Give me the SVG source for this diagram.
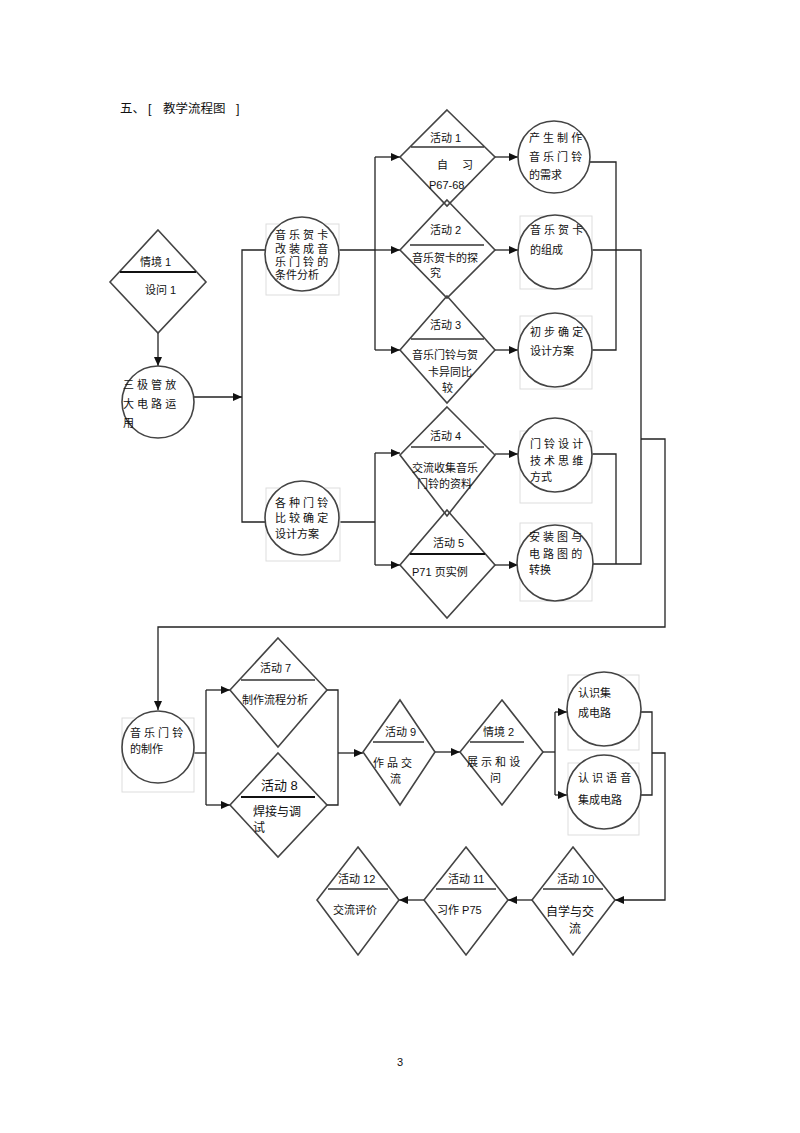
<svg xmlns="http://www.w3.org/2000/svg" width="800" height="1133" viewBox="0 0 800 1133">
<defs>
<marker id="arr" markerUnits="userSpaceOnUse" markerWidth="9" markerHeight="8" refX="9" refY="4" orient="auto">
<path d="M0,0 L9,4 L0,8 z" fill="#111"/>
</marker>
<style>
.t{font-family:"Liberation Sans","Noto Sans CJK SC",sans-serif;font-size:11px;fill:#111;dominant-baseline:central}
.big{font-size:13px}
.mid{font-size:12px}
.title{font-size:12.5px}
.sh{fill:#fff;stroke:#444;stroke-width:1.6}
.box{fill:#fff;stroke:#ddd;stroke-width:1}
.div{stroke:#333;stroke-width:1.4}
.divb{stroke:#111;stroke-width:2.2}
.c{fill:none;stroke:#222;stroke-width:1.3}
.ca{fill:none;stroke:#222;stroke-width:1.3;marker-end:url(#arr)}
</style>
</defs>
<rect width="800" height="1133" fill="#fff"/>
<g id="title">
<text class="t title" x="120" y="109">五、</text>
<text class="t title" x="148" y="109">[</text>
<text class="t title" x="163" y="109">教学流程图</text>
<text class="t title" x="236" y="109">]</text>
</g>
<g id="connectors">
<path class="ca" d="M158,332 L158,366"/>
<path class="ca" d="M194,397 L242,397"/>
<path class="c" d="M265,250 L242,250 L242,522 L265,522"/>
<path class="c" d="M339,250 L375,250"/>
<path class="c" d="M375,157 L375,350"/>
<path class="ca" d="M375,157 L400,157"/>
<path class="ca" d="M375,250 L400,250"/>
<path class="ca" d="M375,350 L400,350"/>
<path class="c" d="M339,522 L375,522"/>
<path class="c" d="M375,453 L375,565"/>
<path class="ca" d="M375,453 L400,453"/>
<path class="ca" d="M375,565 L400,565"/>
<path class="ca" d="M495,157 L518,157"/>
<path class="ca" d="M495,250 L518,250"/>
<path class="ca" d="M495,350 L518,350"/>
<path class="ca" d="M495,454 L518,454"/>
<path class="ca" d="M495,565 L518,565"/>
<path class="c" d="M590,162 L616,162 L616,350 L592,350"/>
<path class="c" d="M592,250 L641,250 L641,564 L593,564"/>
<path class="c" d="M592,454 L616,454 L616,564"/>
<path class="ca" d="M641,439 L665,439 L665,627 L158,627 L158,710"/>
<path class="c" d="M194,753 L206,753"/>
<path class="c" d="M206,690 L206,805"/>
<path class="ca" d="M206,690 L230,690"/>
<path class="ca" d="M206,805 L230,805"/>
<path class="c" d="M327,690 L338,690 L338,805 L327,805"/>
<path class="ca" d="M338,753 L363,753"/>
<path class="ca" d="M435,752 L460,752"/>
<path class="c" d="M543,752 L555,752"/>
<path class="c" d="M555,712 L555,795"/>
<path class="ca" d="M555,712 L567,712"/>
<path class="ca" d="M555,795 L567,795"/>
<path class="c" d="M641,712 L652,712 L652,795 L641,795"/>
<path class="ca" d="M652,753 L665,753 L665,900 L615,900"/>
<path class="ca" d="M532,900 L508,900"/>
<path class="ca" d="M424,900 L399,900"/>
</g>
<g id="d_qj1">
<polygon class="sh" points="158,230 206,282 158,333 110,282"/>
<line class="divb" x1="120" y1="272" x2="196" y2="272"/>
<text class="t" x="140" y="262">情境 1</text>
<text class="t" x="145" y="290">设问 1</text>
</g>
<g id="c_sanji">
<circle class="sh" cx="158" cy="402" r="36"/>
<text class="t" x="123" y="385">三 极 管 放</text>
<text class="t" x="123" y="404">大 电 路 运</text>
<text class="t" x="123" y="423">用</text>
</g>
<g id="c_tiaojian">
<rect class="box" x="266" y="224" width="73" height="71"/>
<circle class="sh" cx="302" cy="254" r="37"/>
<text class="t" x="275" y="235">音 乐 贺 卡</text>
<text class="t" x="275" y="249">改 装 成 音</text>
<text class="t" x="275" y="262">乐 门 铃 的</text>
<text class="t" x="275" y="275">条件分析</text>
</g>
<g id="c_gezhong">
<rect class="box" x="266" y="488" width="74" height="73"/>
<circle class="sh" cx="302" cy="518" r="37"/>
<text class="t" x="275" y="503">各 种 门 铃</text>
<text class="t" x="275" y="518">比 较 确 定</text>
<text class="t" x="275" y="534">设计方案</text>
</g>
<g id="d_act1">
<polygon class="sh" points="447,110 495,157 447,206 400,157"/>
<line class="div" x1="411" y1="147" x2="484" y2="147"/>
<text class="t" x="430" y="138">活动 1</text>
<text class="t" x="437" y="165">自　 习</text>
<text class="t" x="429" y="185">P67-68</text>
</g>
<g id="d_act2">
<polygon class="sh" points="447,200 495,250 447,298 400,250" fill-opacity="0"/>
<line class="div" x1="410" y1="245" x2="484" y2="245"/>
<text class="t" x="430" y="230">活动 2</text>
<text class="t" x="412" y="258">音乐贺卡的探</text>
<text class="t" x="430" y="273">究</text>
</g>
<g id="d_act3">
<polygon class="sh" points="447,296 495,350 447,403 400,350" fill-opacity="0"/>
<line class="div" x1="411" y1="339" x2="484" y2="339"/>
<text class="t" x="430" y="325">活动 3</text>
<text class="t" x="412" y="355">音乐门铃与贺</text>
<text class="t" x="428" y="372">卡异同比</text>
<text class="t" x="442" y="388">较</text>
</g>
<g id="d_act4">
<polygon class="sh" points="447,407 495,455 447,516 400,455"/>
<line class="div" x1="411" y1="447" x2="484" y2="447"/>
<text class="t" x="430" y="436">活动 4</text>
<text class="t" x="412" y="468">交流收集音乐</text>
<text class="t" x="417" y="484">门铃的资料</text>
</g>
<g id="d_act5">
<polygon class="sh" points="447,510 495,565 447,618 400,565" fill-opacity="0"/>
<line class="divb" x1="410" y1="554" x2="485" y2="554"/>
<text class="t" x="433" y="543">活动 5</text>
<text class="t" x="412" y="572">P71 页实例</text>
</g>
<g id="c_xuqiu">
<circle class="sh" cx="554" cy="157" r="36"/>
<text class="t" x="529" y="138">产 生 制 作</text>
<text class="t" x="529" y="157">音 乐 门 铃</text>
<text class="t" x="529" y="175">的需求</text>
</g>
<g id="c_zucheng">
<rect class="box" x="520" y="216" width="72" height="73"/>
<circle class="sh" cx="555" cy="252" r="37"/>
<text class="t" x="530" y="230">音 乐 贺 卡</text>
<text class="t" x="530" y="250">的组成</text>
</g>
<g id="c_chubu">
<rect class="box" x="520" y="316" width="72" height="73"/>
<circle class="sh" cx="555" cy="350" r="37"/>
<text class="t" x="530" y="332">初 步 确 定</text>
<text class="t" x="530" y="351">设计方案</text>
</g>
<g id="c_jishu">
<rect class="box" x="520" y="431" width="72" height="72"/>
<circle class="sh" cx="555" cy="455" r="37"/>
<text class="t" x="530" y="444">门 铃 设 计</text>
<text class="t" x="530" y="461">技 术 思 维</text>
<text class="t" x="530" y="477">方式</text>
</g>
<g id="c_zhuanhuan">
<rect class="box" x="520" y="523" width="72" height="78"/>
<circle class="sh" cx="555" cy="563" r="38"/>
<text class="t" x="529" y="537">安 装 图 与</text>
<text class="t" x="529" y="554">电 路 图 的</text>
<text class="t" x="529" y="570">转换</text>
</g>
<g id="c_zhizuo">
<rect class="box" x="122" y="718" width="72" height="74"/>
<circle class="sh" cx="158" cy="747" r="36"/>
<text class="t" x="130" y="733">音 乐 门 铃</text>
<text class="t" x="130" y="749">的制作</text>
</g>
<g id="d_act7">
<polygon class="sh" points="278,638 327,690 278,747 230,690"/>
<line class="div" x1="241" y1="680" x2="315" y2="680"/>
<text class="t" x="260" y="668">活动 7</text>
<text class="t" x="242" y="700">制作流程分析</text>
</g>
<g id="d_act8">
<polygon class="sh" points="278,753 327,805 278,857 230,805"/>
<line class="divb" x1="241" y1="797" x2="315" y2="797"/>
<text class="t big" x="261" y="785">活动 8</text>
<text class="t mid" x="253" y="812">焊接与调</text>
<text class="t mid" x="253" y="828">试</text>
</g>
<g id="d_act9">
<polygon class="sh" points="400,700 435,752 400,805 363,752"/>
<line class="div" x1="373" y1="742" x2="424" y2="742"/>
<text class="t" x="385" y="732">活动 9</text>
<text class="t" x="373" y="763">作 品 交</text>
<text class="t" x="390" y="779">流</text>
</g>
<g id="d_qj2">
<polygon class="sh" points="502,700 543,752 502,805 460,752"/>
<line class="div" x1="470" y1="742" x2="524" y2="742"/>
<text class="t" x="483" y="732">情境 2</text>
<text class="t" x="467" y="762">展 示 和 设</text>
<text class="t" x="490" y="778">问</text>
</g>
<g id="c_jicheng">
<rect class="box" x="568" y="675" width="71" height="75"/>
<circle class="sh" cx="604" cy="709" r="37"/>
<text class="t" x="578" y="693">认识集</text>
<text class="t" x="578" y="713">成电路</text>
</g>
<g id="c_yuyin">
<rect class="box" x="568" y="763" width="71" height="72"/>
<circle class="sh" cx="604" cy="792" r="37"/>
<text class="t" x="578" y="778">认 识 语 音</text>
<text class="t" x="578" y="800">集成电路</text>
</g>
<g id="d_act10">
<polygon class="sh" points="573,847 615,900 573,955 532,900"/>
<line class="div" x1="543" y1="889" x2="603" y2="889"/>
<text class="t" x="557" y="879">活动 10</text>
<text class="t mid" x="546" y="912">自学与交</text>
<text class="t mid" x="569" y="929">流</text>
</g>
<g id="d_act11">
<polygon class="sh" points="466,847 508,900 466,955 424,900"/>
<line class="div" x1="436" y1="889" x2="496" y2="889"/>
<text class="t" x="448" y="879">活动 11</text>
<text class="t" x="437" y="910">习作  P75</text>
</g>
<g id="d_act12">
<polygon class="sh" points="358,847 399,900 358,955 317,900"/>
<line class="div" x1="328" y1="889" x2="388" y2="889"/>
<text class="t" x="338" y="879">活动 12</text>
<text class="t" x="333" y="910">交流评价</text>
</g>
<text class="t" x="397" y="1062">3</text>
</svg>
